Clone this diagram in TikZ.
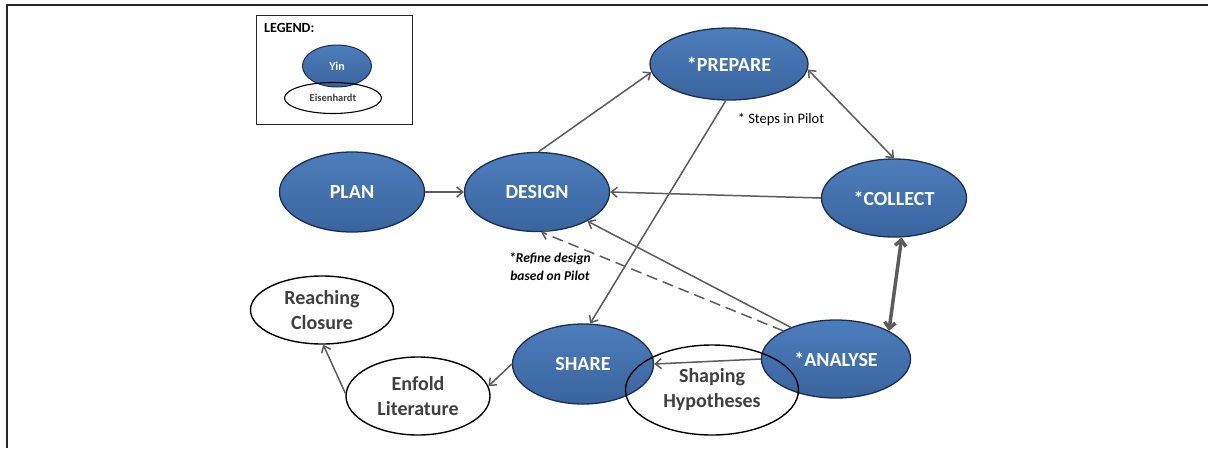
\documentclass[tikz,border=0pt]{standalone}
\usepackage{fontspec}
\setmainfont{Carlito}
\usetikzlibrary{arrows.meta,shapes.geometric}
\definecolor{yintop}{RGB}{76,126,188}
\definecolor{yinbot}{RGB}{57,100,158}
\definecolor{yinedge}{RGB}{28,46,80}
\definecolor{conn}{RGB}{92,92,92}
\definecolor{eistext}{RGB}{64,64,64}
\begin{document}
\begin{tikzpicture}[x=1pt,y=-1pt,
  yin/.style={ellipse, draw=yinedge, line width=1.3pt, top color=yintop, bottom color=yinbot, text=white,
    font=\bfseries\fontsize{20}{24}\selectfont, inner sep=0pt},
  eis/.style={ellipse, draw=black, line width=1.4pt, text=eistext, align=center,
    font=\bfseries\fontsize{20}{25}\selectfont, inner sep=0pt},
  conn/.style={draw=conn, line width=1.5pt, -{Straight Barb[length=6pt,width=10pt]}},
  biconn/.style={draw=conn, line width=1.5pt, {Straight Barb[length=6pt,width=10pt]}-{Straight Barb[length=6pt,width=10pt]}},
  thickbi/.style={draw=conn, line width=3.5pt, {Straight Barb[length=6pt,width=11pt]}-{Straight Barb[length=6pt,width=11pt]}},
  lbl/.style={inner sep=0pt, text=black}]
\useasboundingbox (0,0) rectangle (1208,448);
\fill[white] (0,0) rectangle (1208,448);
% frame (top and left edges)
\draw[line width=2.6pt, black!85] (7,448) -- (7,5) -- (1208,5);
% legend
\node[draw=black!85, line width=0.9pt, minimum width=156pt, minimum height=109pt, anchor=north west, inner sep=0pt] (legbox) at (256,15) {};
\node[lbl, anchor=west, font=\bfseries\fontsize{14}{16}\selectfont] (legtitle) at (264,28) {LEGEND:};
\node[yin, minimum width=69pt, minimum height=42pt, line width=1pt, font=\bfseries\fontsize{12}{14}\selectfont] (legyin) at (337,66) {Yin};
\node[eis, minimum width=97pt, minimum height=31pt, line width=1.1pt, font=\bfseries\fontsize{10.5}{12}\selectfont] (legeis) at (333,98) {Eisenhardt};
% Yin nodes
\node[yin, minimum width=158pt, minimum height=72pt] (prepare) at (729,64) {*PREPARE};
\node[yin, minimum width=145pt, minimum height=80pt] (plan) at (352,192) {PLAN};
\node[yin, minimum width=145pt, minimum height=79pt] (design) at (537,192) {DESIGN};
\node[yin, minimum width=145pt, minimum height=78pt] (collect) at (894,198) {*COLLECT};
\node[yin, minimum width=149pt, minimum height=78pt] (analyse) at (836,359) {*ANALYSE};
\node[yin, minimum width=141pt, minimum height=80pt] (share) at (583,364) {SHARE};
% Eisenhardt nodes
\node[eis, minimum width=143pt, minimum height=68pt] (reach) at (322,310) {Reaching\\Closure};
\node[eis, minimum width=144pt, minimum height=78pt] (enfold) at (418,396) {Enfold\\Literature};
\node[eis, minimum width=173pt, minimum height=90pt] (shaping) at (712,390) {};
\node[lbl, text=eistext, align=center, font=\bfseries\fontsize{20}{25}\selectfont] (shapingtxt) at (712,390) {Shaping\\Hypotheses};
% labels
\node[lbl, font=\fontsize{14.5}{16}\selectfont] (steps) at (781,120) {* Steps in Pilot};
\node[lbl, align=center, font=\bfseries\itshape\fontsize{13.5}{18}\selectfont] (refine) at (550,267) {*Refine design\\based on Pilot};
% connectors
\draw[conn] (plan.east) -- (design.west);
\draw[conn] (design.88) -- (prepare.186);
\draw[biconn] (prepare.356) -- (collect.north);
\draw[conn] (collect.west) -- (design.east);
\draw[conn] (prepare.265) -- (share.80);
\draw[conn] (analyse.145) -- (design.330);
\draw[conn, dashed, dash pattern=on 11pt off 6pt] (analyse.152) -- (design.276);
\draw[thickbi] (collect.281) -- (analyse.28);
\draw[conn] (analyse.west) -- (share.east);
\draw[conn] (share.west) -- (enfold.8);
\draw[conn] (enfold.178) -- (reach.272);
\end{tikzpicture}
\end{document}
